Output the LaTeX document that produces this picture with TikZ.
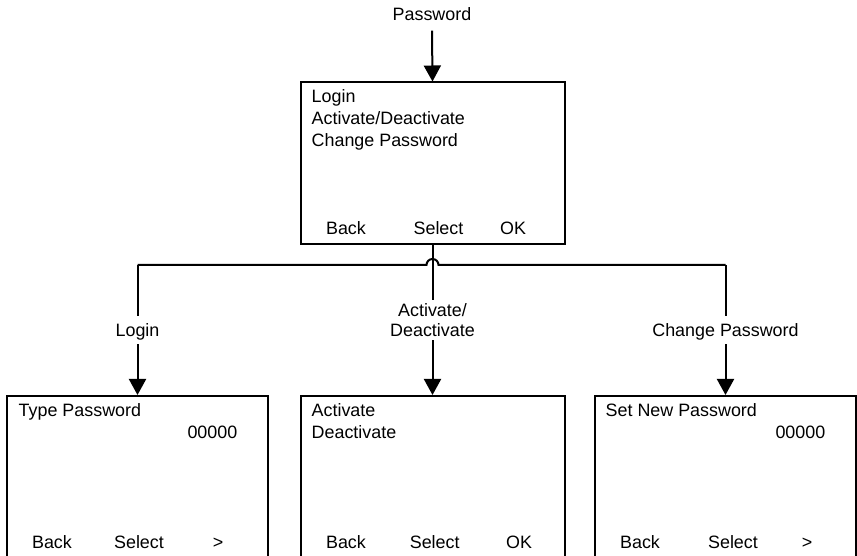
\documentclass[tikz,border=0pt]{standalone}
\usepackage{fontspec}
\setmainfont{Liberation Sans}
\usetikzlibrary{arrows.meta}
\begin{document}
\begin{tikzpicture}[x=1pt,y=1pt,
  screen/.style={draw, line width=2pt, rectangle, inner sep=0pt, minimum height=162pt},
  txt/.style={inner sep=0pt, font=\fontsize{17.9}{21}\selectfont},
  lab/.style={fill=white, inner sep=3pt, font=\fontsize{17.9}{20.5}\selectfont, align=center},
  onelab/.style={lab, text height=18pt, text depth=4pt},
  wire/.style={line width=2pt},
  arr/.style={line width=2pt, -{Triangle[width=17pt,length=16pt]}}]
\useasboundingbox (0,0) rectangle (857,556);
\clip (0,0) rectangle (857,556);
% screens
\node[screen, minimum width=264pt] (top) at (432.5,392.5) {};
\node[screen, minimum width=261pt] (lbox) at (137.5,79) {};
\node[screen, minimum width=264pt] (mbox) at (432.5,79) {};
\node[screen, minimum width=261pt] (rbox) at (725.5,79) {};
% top label
\node[txt, anchor=base] (pw) at (432,535.3) {Password};
% top screen text
\node[txt, anchor=base west] (t1) at (311.5,453.3) {Login};
\node[txt, anchor=base west] (t2) at (311.5,431.6) {Activate/Deactivate};
\node[txt, anchor=base west] (t3) at (311.5,409.9) {Change Password};
\node[txt, anchor=base] (tb1) at (346,321) {Back};
\node[txt, anchor=base] (tb2) at (438.5,321) {Select};
\node[txt, anchor=base] (tb3) at (513,321) {OK};
% left screen text
\node[txt, anchor=base west] (l1) at (18.5,139.3) {Type Password};
\node[txt, anchor=base east] (l2) at (237.5,117.5) {00000};
\node[txt, anchor=base] (lb1) at (52,7) {Back};
\node[txt, anchor=base] (lb2) at (139,7) {Select};
\node[txt, anchor=base] (lb3) at (218,7) {>};
% middle screen text
\node[txt, anchor=base west] (m1) at (311.5,139.3) {Activate};
\node[txt, anchor=base west] (m2) at (311.5,117.5) {Deactivate};
\node[txt, anchor=base] (mb1) at (346,7) {Back};
\node[txt, anchor=base] (mb2) at (434.7,7) {Select};
\node[txt, anchor=base] (mb3) at (519,7) {OK};
% right screen text
\node[txt, anchor=base west] (r1) at (605.5,139.3) {Set New Password};
\node[txt, anchor=base east] (r2) at (825.5,117.5) {00000};
\node[txt, anchor=base] (rb1) at (640,7) {Back};
\node[txt, anchor=base] (rb2) at (733,7) {Select};
\node[txt, anchor=base] (rb3) at (807,7) {>};
% connectors
\coordinate (jl) at (137.5,291);
\coordinate (jr) at (725.5,291);
\coordinate (hopL) at (426.5,291);
\draw[wire] (jl) -- (hopL) arc[start angle=180, end angle=0, radius=6] -- (jr);
\draw[arr] ([yshift=-10pt]pw.base) -- (top.north);
\draw[arr] (jl) -- node[onelab] (ll) {Login} (lbox.north);
\draw[arr] (top.south) -- node[lab] (ml) {Activate/\\Deactivate} (mbox.north);
\draw[arr] (jr) -- node[onelab] (rl) {Change Password} (rbox.north);
\end{tikzpicture}
\end{document}
